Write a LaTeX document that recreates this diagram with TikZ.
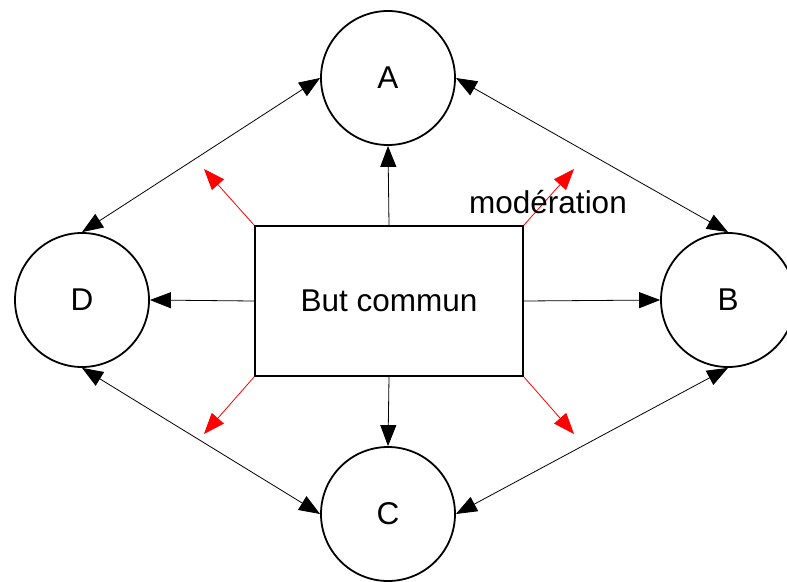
\documentclass[tikz,border=0pt]{standalone}
\usepackage{fontspec}
\setmainfont{Liberation Sans}
\usetikzlibrary{arrows.meta}
\begin{document}
\begin{tikzpicture}[x=1pt,y=-1pt,
  txt/.style={font=\fontsize{31.5}{36}\selectfont},
  acteur/.style={txt,draw,circle,line width=1.8pt,minimum size=134pt,inner sep=0pt},
  but/.style={txt,draw,rectangle,line width=1.8pt,minimum width=268pt,minimum height=150pt},
  >={Triangle[length=21pt,width=16pt]},
  lien/.style={->,line width=0.8pt},
  double/.style={<->,line width=0.8pt},
  moder/.style={->,red,line width=0.8pt}]
\useasboundingbox (0,0) rectangle (787,581);
\node[acteur] (A) at (388,78) {A};
\node[acteur] (B) at (728,300) {B};
\node[acteur] (C) at (388,514) {C};
\node[acteur] (D) at (82,300) {D};
\node[but] (but) at (389,301) {But commun};
\coordinate (hg) at (204,169);
\coordinate (hd) at (574,169);
\coordinate (bg) at (204,434);
\coordinate (bd) at (574,434);
\draw[lien] (but.north) to[] (A.south);
\draw[lien] (but.east) to[] (B.west);
\draw[lien] (but.south) to[] (C.north);
\draw[lien] (but.west) to[] (D.east);
\draw[double] (D.north) to[] (A.west);
\draw[double] (A.east) to[] (B.north);
\draw[double] (B.south) to[] (C.east);
\draw[double] (C.west) to[] (D.south);
\draw[moder] (but.north west) to[] (hg);
\draw[moder] (but.north east) to[] (hd);
\draw[moder] (but.south west) to[] (bg);
\draw[moder] (but.south east) to[] (bd);
\node[txt] (moderation) at (548,202) {modération};
\end{tikzpicture}
\end{document}
